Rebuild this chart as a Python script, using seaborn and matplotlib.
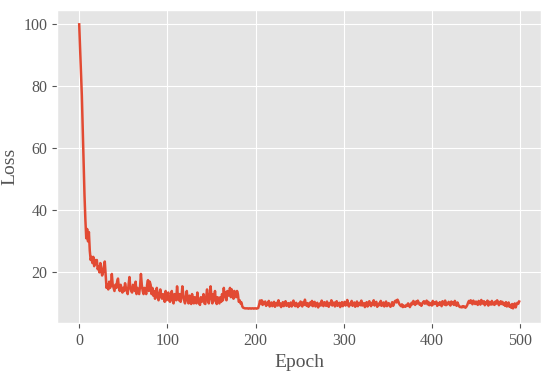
import seaborn as sns
import matplotlib.pyplot as plt
import pandas as pd
import numpy as np

# loss per epoch
loss_start = [100, 92, 84, 77, 66, 55, 45, 37, 31, 34,
              30, 33, 27, 24, 25, 23, 25, 22, 24, 23,
              24, 21, 22, 20, 23, 21, 19, 20, 22, 23.5,
              19, 15, 16, 14.5, 17, 15, 16, 19.5, 16, 15,
              14, 16, 15, 17, 18, 15, 14, 16, 15, 13.5,
              15, 14, 16.5, 15, 14, 13, 16, 18.5, 15, 14,
              13.5, 16, 15, 14, 17, 13, 15, 14, 13, 15.5,
              19.5, 16, 14, 13, 15, 14, 13, 16, 17.5, 14,
              17, 16, 13, 15, 12.5, 14, 11.5, 13, 15, 12,
              11, 13, 14.5, 12, 11.5, 13, 12, 10.5, 14, 11]

loss_mid = [12, 13.5, 11, 10.5, 12, 14, 11, 10, 13, 12,
            11, 15.5, 12, 11, 13, 10.5, 12, 15.5, 13, 11,
            10, 12, 14, 11, 10, 12.5, 11, 9.8, 13, 11,
            10, 12, 11, 10, 13.5, 11, 10, 9.5, 12, 10.5,
            11, 13, 10, 9.8, 12, 14.5, 11, 10, 12.5, 15.5,
            12, 10, 13, 11, 14, 10.5, 9.8, 12, 11, 10,
            12, 10.5, 13, 11, 15, 12, 13.5, 11, 14, 12.5,
            13, 15, 12, 14.5, 13, 11.5, 14, 13, 12, 14,
            13, 10.5, 11, 10, 10.3, 9, 8.6, 8.5, 8.4, 8.4,
            8.4, 8.4, 8.3, 8.4, 8.4, 8.3, 8.4, 8.4, 8.3, 8.4,
            8.4, 8.3, 8.4, 8.5, 9.5, 10.9, 10, 11, 9.5, 10.5]

loss_end = [9.8, 10.6, 9.2, 10.1, 9.5, 10.8, 9.0, 9.7, 10.3, 9.1,
            9.9, 10.5, 8.9, 9.6, 10.2, 9.3, 11.0, 9.4, 10.0, 8.8,
            9.5, 10.4, 9.1, 9.8, 10.7, 9.2, 9.6, 10.1, 8.9, 9.7,
            10.3, 9.0, 9.9, 10.9, 9.4, 9.1, 10.2, 9.6, 8.8, 10.0,
            9.3, 10.6, 9.7, 9.0, 10.4, 9.5, 11.2, 9.8, 9.2, 10.1,
            8.9, 9.6, 10.3, 9.4, 10.8, 9.1, 9.9, 10.5, 9.0, 9.7,
            10.2, 8.7, 9.5, 10.0, 9.3, 10.9, 9.6, 9.1, 10.4, 9.8,
            9.2, 10.6, 9.4, 8.9, 10.1, 9.7, 11.0, 9.3, 9.9, 10.3,
            9.0, 9.6, 10.7, 9.2, 9.8, 10.2, 8.8, 9.5, 10.4, 9.1,
            9.9, 10.5, 9.3, 9.7, 11.1, 9.4, 9.0, 10.0, 9.6, 10.8,
            9.2, 9.8, 10.3, 8.9, 9.5, 10.6, 9.1, 9.9, 10.2, 9.4,
            10.9, 9.3, 9.7, 10.1, 8.8, 9.6, 10.4, 9.0, 9.8, 10.7,
            9.5, 9.1, 10.2, 9.7, 11.0, 9.3, 9.9, 10.5, 8.9, 9.6,
            10.0, 9.4, 10.8, 9.2, 9.7, 10.3, 9.0, 9.8, 10.6, 9.1,
            9.5, 10.1, 9.3, 8.9, 9.6, 10.4, 9.2, 9.9, 10.7, 10.9,
            10.3, 11.2, 10.6, 9.8, 9.4, 9.1, 9.7, 8.8, 9.3, 9.0,
            8.9, 9.5, 9.2, 10.0, 9.6, 8.8, 9.4, 10.2, 9.7, 10.8,
            10.1, 9.5, 10.6, 9.9, 10.9, 10.3, 9.6, 10.0, 9.2, 9.8,
            10.4, 10.7, 9.9, 10.2, 10.9, 9.7, 10.5, 9.4, 10.1, 9.6,
            9.3, 10.8, 9.7, 10.3, 9.9, 10.6, 9.2, 10.0, 9.5, 10.4,
            9.8, 9.1, 10.7, 10.2, 9.6, 10.9, 9.4, 10.1, 9.7, 10.5,
            10.0, 9.3, 10.6, 9.8, 10.4, 9.5, 10.8, 9.9, 9.2, 10.3,
            9.6, 9.0, 8.8, 8.9, 8.7, 9.1, 8.8, 9.0, 8.6, 8.9,
            9.4, 10.2, 10.8, 10.1, 11.0, 10.5, 9.7, 10.9, 10.2, 9.8,
            10.6, 10.0, 9.5, 10.8, 10.3, 9.6, 11.1, 10.2, 9.9, 10.7,
            9.4, 10.4, 9.8, 10.9, 9.3, 10.5, 10.1, 9.6, 10.8, 9.7,
            10.2, 9.5, 10.6, 9.9, 11.0, 10.3, 9.4, 10.0, 10.7, 9.8,
            10.5, 9.6, 10.1, 9.2, 10.4, 9.0, 9.7, 10.3, 8.9, 9.5,
            8.6, 9.8, 8.4, 9.3, 10.0, 8.7, 9.6, 10.2, 9.9, 10.6]

loss = loss_start + loss_mid + loss_end
epochs = list(range(len(loss)))

df = pd.DataFrame({'epoch': epochs, 'loss': loss})

plt.style.use('ggplot')
plt.rcParams['font.family'] = ['Liberation Serif', 'DejaVu Serif']

fig = plt.figure(figsize=(5.5, 3.75), dpi=100)
ax = fig.add_subplot(111)
fig.subplots_adjust(left=0.104, right=0.984, bottom=0.139, top=0.973)

sns.lineplot(data=df, x='epoch', y='loss', color='#E24A33', linewidth=1.8, ax=ax)

ax.set_xlabel('Epoch', fontsize=14, color='#555555')
ax.set_ylabel('Loss', fontsize=14, color='#555555')
ax.tick_params(labelsize=11.5, colors='#555555')
ax.set_xticks([0, 100, 200, 300, 400, 500])
ax.set_yticks([20, 40, 60, 80, 100])

plt.savefig('out.png', dpi=100)
plt.close()
